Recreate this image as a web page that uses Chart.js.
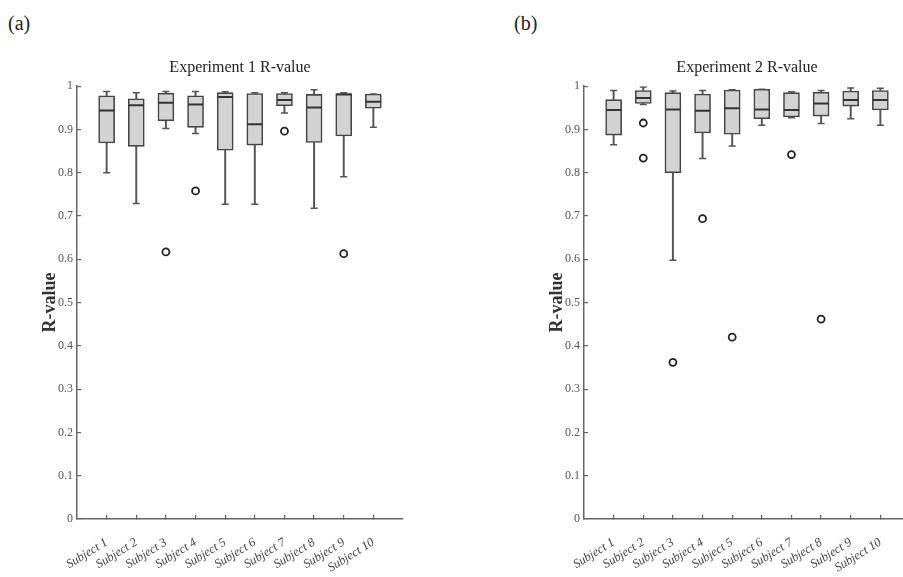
<!DOCTYPE html>
<html>
<head>
<meta charset="utf-8">
<script src="https://cdn.jsdelivr.net/npm/chart.js@4.4.0/dist/chart.umd.min.js"></script>
<style>
  html, body { margin: 0; padding: 0; background: #fff; overflow: hidden; width: 903px; height: 577px; }
  .tag { position: absolute; font-family: 'Liberation Serif', serif; font-size: 20px; color: #222; }
  canvas { position: absolute; top: 0; }
</style>
</head>
<body>
<div class="tag" style="left:8px;top:12px">(a)</div>
<div class="tag" style="left:514px;top:12px">(b)</div>
<canvas id="chartA" width="450" height="577" style="left:0"></canvas>
<canvas id="chartB" width="450" height="577" style="left:507px"></canvas>
<script>
const subjects = ['Subject 1', 'Subject 2', 'Subject 3', 'Subject 4', 'Subject 5',
                  'Subject 6', 'Subject 7', 'Subject 8', 'Subject 9', 'Subject 10'];

// Experiment 1 box stats
const exp1Min = [0.800, 0.729, 0.902, 0.891, 0.727, 0.727, 0.938, 0.718, 0.791, 0.905];
const exp1Q1  = [0.869, 0.861, 0.920, 0.905, 0.852, 0.864, 0.955, 0.870, 0.885, 0.949];
const exp1Med = [0.944, 0.956, 0.962, 0.958, 0.975, 0.912, 0.968, 0.951, 0.981, 0.964];
const exp1Q3  = [0.978, 0.971, 0.984, 0.978, 0.985, 0.983, 0.983, 0.981, 0.983, 0.982];
const exp1Max = [0.988, 0.985, 0.988, 0.988, 0.987, 0.985, 0.985, 0.992, 0.985, 0.982];
const exp1Out = [[3, 0.617], [4, 0.758], [7, 0.896], [9, 0.613]];

// Experiment 2 box stats
const exp2Min = [0.865, 0.958, 0.598, 0.833, 0.862, 0.910, 0.927, 0.914, 0.925, 0.910];
const exp2Q1  = [0.887, 0.960, 0.800, 0.892, 0.889, 0.925, 0.929, 0.931, 0.954, 0.945];
const exp2Med = [0.945, 0.973, 0.946, 0.943, 0.949, 0.946, 0.945, 0.960, 0.968, 0.968];
const exp2Q3  = [0.969, 0.990, 0.985, 0.982, 0.991, 0.993, 0.985, 0.986, 0.989, 0.990];
const exp2Max = [0.990, 0.998, 0.989, 0.990, 0.992, 0.993, 0.987, 0.990, 0.996, 0.995];
const exp2Out = [[2, 0.915], [2, 0.834], [3, 0.362], [4, 0.694], [5, 0.420], [7, 0.842], [8, 0.462]];

// empty slots either side so the subjects sit at 1..10 on an 0..11 axis
const labels = ['', ...subjects, ''];
const pad = arr => [null, ...arr, null];
const serif = "'Liberation Serif', 'Times New Roman', serif";
const axisGray = '#666';

function boxChart(id, title, mins, q1s, meds, q3s, maxs, outliers) {
  const whisker = {
    type: 'bar', grouped: false, barThickness: 1.3,
    backgroundColor: '#555', borderWidth: 0, order: 4
  };
  const cap = {
    type: 'line', showLine: false, pointStyle: 'line', pointRadius: 3.5,
    pointBorderColor: '#555', pointBorderWidth: 1.5, order: 2
  };
  const datasets = [
    { ...whisker, label: 'low', data: pad(mins.map((m, i) => [m, q1s[i]])) },
    { ...whisker, label: 'high', data: pad(q3s.map((q, i) => [q, maxs[i]])) },
    {
      type: 'bar', label: 'box', grouped: false, barThickness: 16, order: 3,
      data: pad(q1s.map((q, i) => [q, q3s[i]])),
      backgroundColor: '#d3d3d3', borderColor: '#444', borderWidth: 1.6, borderSkipped: false
    },
    { ...cap, label: 'min', data: pad(mins) },
    { ...cap, label: 'max', data: pad(maxs) },
    {
      type: 'line', label: 'median', showLine: false, order: 1, data: pad(meds),
      pointStyle: 'line', pointRadius: 7.5, pointBorderColor: '#333', pointBorderWidth: 2
    },
    {
      type: 'line', label: 'outliers', showLine: false, order: 0,
      data: outliers.map(o => ({ x: subjects[o[0] - 1], y: o[1] })),
      pointStyle: 'circle', pointRadius: 3.5, pointBackgroundColor: 'rgba(0,0,0,0)',
      pointBorderColor: '#222', pointBorderWidth: 1.8
    }
  ];

  return new Chart(document.getElementById(id), {
    type: 'bar',
    data: { labels: labels, datasets: datasets },
    options: {
      responsive: false,
      animation: false,
      events: [],
      layout: { padding: { left: 0, right: 47, top: 58, bottom: 0 } },
      plugins: {
        legend: { display: false },
        tooltip: { enabled: false },
        title: {
          display: true, text: title, fullSize: false, color: '#222',
          font: { family: serif, size: 16, weight: 'normal' },
          padding: { top: 0, bottom: 9 }
        }
      },
      scales: {
        x: {
          type: 'category', offset: false,
          afterFit: s => { s.height = 58; },
          border: { color: axisGray, width: 1.5 },
          grid: {
            offset: false, drawOnChartArea: false, tickLength: -4, lineWidth: 1.2,
            color: c => (c.index === 0 || c.index === 11) ? 'rgba(0,0,0,0)' : axisGray
          },
          ticks: {
            autoSkip: false, minRotation: 32, maxRotation: 32, padding: 20,
            color: '#444', font: { family: serif, size: 12.5, style: 'italic' }
          }
        },
        y: {
          min: 0, max: 1,
          afterFit: s => { s.width = 77; },
          border: { color: axisGray, width: 1.5 },
          grid: { drawOnChartArea: false, tickLength: -4, lineWidth: 1.2, color: axisGray },
          ticks: {
            stepSize: 0.1, padding: 8, color: '#555',
            font: { family: serif, size: 12 },
            callback: v => String(+v.toFixed(1))
          },
          title: {
            display: true, text: 'R-value', color: '#333',
            font: { family: serif, size: 18, weight: 'bold' },
            padding: { top: 40, bottom: 0 }
          }
        }
      }
    }
  });
}

boxChart('chartA', 'Experiment 1 R-value', exp1Min, exp1Q1, exp1Med, exp1Q3, exp1Max, exp1Out);
boxChart('chartB', 'Experiment 2 R-value', exp2Min, exp2Q1, exp2Med, exp2Q3, exp2Max, exp2Out);
</script>
</body>
</html>
